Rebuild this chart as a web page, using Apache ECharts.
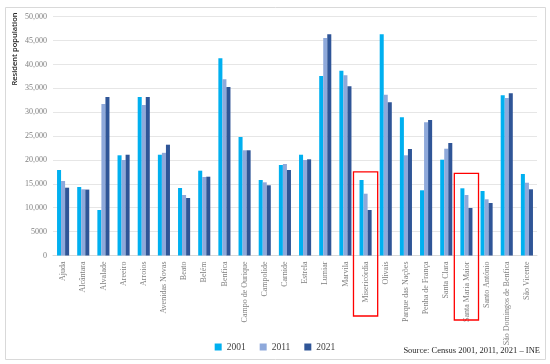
<!DOCTYPE html>
<html>
<head>
<meta charset="utf-8">
<script src="https://cdn.jsdelivr.net/npm/echarts@6/dist/echarts.min.js"></script>
<style>html,body{margin:0;padding:0;background:#fff;}#c{width:550px;height:364px;}</style>
</head>
<body>
<div id="c"></div>
<script>
const categories = ['Ajuda','Alcântara','Alvalade','Areeiro','Arroios','Avenidas Novas','Beato','Belém','Benfica','Campo de Ourique','Campolide','Carnide','Estrela','Lumiar','Marvila','Misericórdia','Olivais','Parque das Nações','Penha de França','Santa Clara','Santa Maria Maior','Santo António','São Domingos de Benfica','São Vicente'];
const pop2001 = [17900,14340,9530,20980,33190,21100,14130,17760,41290,24810,15810,18950,21100,37580,38700,15810,46310,28930,13650,20060,14070,13500,33540,17060];
const pop2011 = [15600,13860,31720,20000,31510,21500,12670,16440,36890,22030,15320,19160,20000,45540,37730,12940,33670,20980,27880,22360,12670,11770,32980,15240];
const pop2021 = [14200,13800,33190,21100,33190,23200,12040,16500,35280,22030,14700,17900,20140,46310,35420,9530,32080,22300,28370,23550,9950,10990,33960,13860];
const seriesNames = ['2001','2011','2021'];
const highlighted = ['Misericórdia','Santa Maria Maior'];
const highlightTop = [17500, 17200];

const serif = '"Liberation Serif","DejaVu Serif",serif';
const chart = echarts.init(document.getElementById('c'), null, {renderer:'canvas'});
const colors = ['#00B0F0','#8EA9DB','#2F5597'];
const mk = (name, data, i) => ({
  name, type:'bar', data, barGap:'0%', barCategoryGap:'40%',
  itemStyle:{color:colors[i]}
});
chart.setOption({
  animation:false,
  grid:{left:53, right:13, top:16.7, bottom:108.5},
  legend:{
    data:seriesNames, bottom:7, left:'center', itemWidth:7, itemHeight:7, itemGap:14,
    icon:'rect', textStyle:{fontFamily:serif, fontSize:9.5, color:'#404040'}
  },
  xAxis:{
    type:'category', data:categories,
    axisLine:{lineStyle:{color:'#d9d9d9'}},
    axisTick:{show:false},
    axisLabel:{rotate:90, interval:0, fontFamily:serif, fontSize:8, color:'#7f7f7f', margin:6}
  },
  yAxis:{
    type:'value', min:0, max:50000, interval:5000,
    axisLine:{show:false}, axisTick:{show:false},
    splitLine:{lineStyle:{color:'#e6e6e6'}},
    axisLabel:{fontFamily:serif, fontSize:8, color:'#7f7f7f', margin:6,
      formatter:v => v >= 10000 ? v.toLocaleString('en-US') : String(v)}
  },
  series:[mk(seriesNames[0],pop2001,0), mk(seriesNames[1],pop2011,1), mk(seriesNames[2],pop2021,2)]
});

const graphics = [
  {type:'rect', shape:{x:5.5,y:7.5,width:540,height:352}, style:{fill:null, stroke:'#d9d9d9', lineWidth:1}, silent:true, z:-1},
  {type:'text', x:15, y:49, rotation:Math.PI/2, style:{text:'Resident population', fontFamily:'"Open Sans","DejaVu Sans",sans-serif', fontSize:7.5, fontWeight:600, fill:'#262626', align:'center', verticalAlign:'middle'}},
  {type:'text', right:10, top:346, style:{text:'Source: Census 2001, 2011, 2021 – INE', fontFamily:serif, fontSize:8.5, fill:'#262626'}}
];
const catW = chart.convertToPixel({xAxisIndex:0}, categories[1]) - chart.convertToPixel({xAxisIndex:0}, categories[0]);
highlighted.forEach((name, k) => {
  const cx = chart.convertToPixel({xAxisIndex:0}, name);
  const ty = chart.convertToPixel({yAxisIndex:0}, highlightTop[k]);
  const bottomY = k === 0 ? 316 : 320;
  graphics.push({type:'rect', shape:{x:cx - catW*0.6, y:ty, width:catW*1.2, height:bottomY - ty},
    style:{fill:null, stroke:'#ff0000', lineWidth:1.3}, silent:true, z:10});
});
chart.setOption({graphic:graphics});
</script>
</body>
</html>
